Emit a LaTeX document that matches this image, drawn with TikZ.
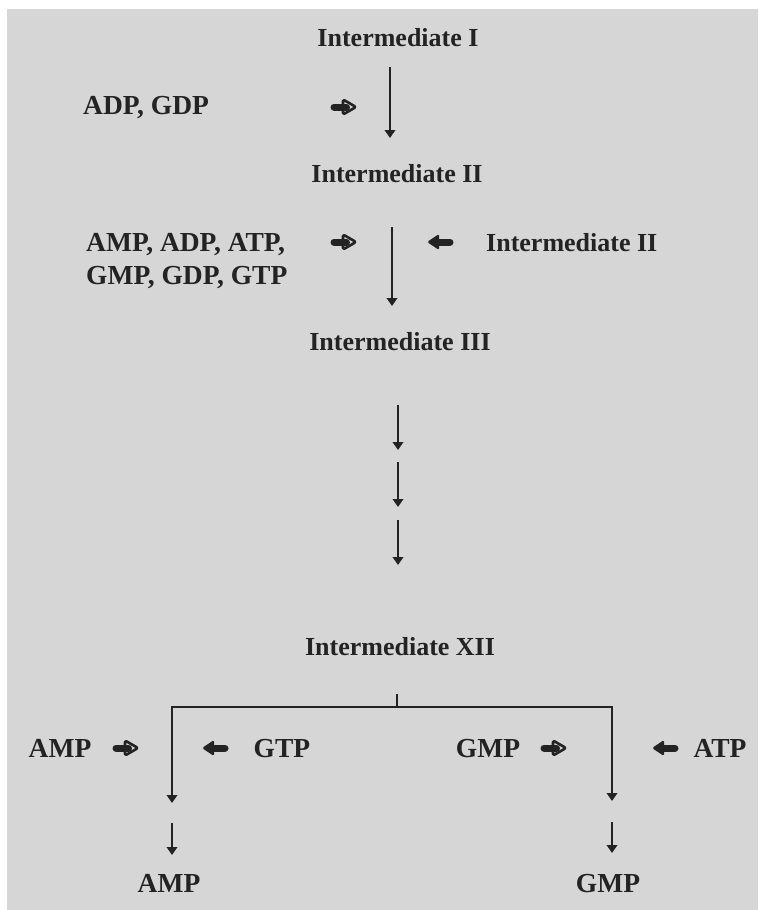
\documentclass[tikz,border=0pt]{standalone}
\usepackage{fontspec}
\setmainfont{Liberation Serif}
\usetikzlibrary{arrows.meta}
\definecolor{ink}{RGB}{35,35,35}
\definecolor{paper}{RGB}{214,214,214}
\begin{document}
\begin{tikzpicture}[x=1pt,y=-1pt,
  txt/.style={inner sep=0pt, font=\fontsize{26}{33}\selectfont\bfseries, text=ink, anchor=base},
  caps/.style={txt, font=\fontsize{27.5}{33}\selectfont\bfseries},
  arr/.style={draw=ink, line width=2.4pt, -{Triangle[width=10.5pt,length=8pt]}},
  bar/.style={draw=ink, line width=2.8pt},
  rsym/.pic={
    \draw[ink, line width=2.6pt, fill=paper, line join=round, rounded corners=1.5pt] (-1,-7.5) -- (12,0) -- (-1,7.5) -- cycle;
    \draw[ink, line width=7pt, line cap=round] (-10,0) -- (2.5,0);
  },
  lsym/.pic={
    \fill[ink, rounded corners=1.5pt] (-13,0) -- (-1,-8) -- (-1,8) -- cycle;
    \draw[ink, line width=7pt, line cap=round] (-4,0) -- (10,0);
  }]
\useasboundingbox (0,0) rectangle (758,910);
\fill[white] (0,0) rectangle (758,910);
\fill[paper] (7,9) rectangle (758,910);

% top
\node[txt] (i1) at (398,46) {Intermediate I};
\node[caps, anchor=base west] (adp) at (83,114) {ADP, GDP};
\pic (r1) at (344,107) {rsym};
\coordinate (a1s) at (390,67); \coordinate (a1e) at (390,138);
\draw[arr] (a1s) -- (a1e);
\node[txt] (i2) at (397,182) {Intermediate II};

% second step
\node[caps, anchor=north west, align=left] (mix) at (86,233) {AMP, ADP, ATP,\\GMP, GDP, GTP};
\pic (r2) at (344,242) {rsym};
\pic (l2) at (440,242) {lsym};
\node[txt, anchor=base west] (i2b) at (486,251) {Intermediate II};
\coordinate (a2s) at (392,227); \coordinate (a2e) at (392,306);
\draw[arr] (a2s) -- (a2e);
\node[txt] (i3) at (400,350) {Intermediate III};

% short steps
\coordinate (s1a) at (398,405); \coordinate (s1b) at (398,450);
\coordinate (s2a) at (398,462); \coordinate (s2b) at (398,507);
\coordinate (s3a) at (398,520); \coordinate (s3b) at (398,565);
\draw[arr] (s1a) -- (s1b);
\draw[arr] (s2a) -- (s2b);
\draw[arr] (s3a) -- (s3b);
\node[txt] (i12) at (400,655) {Intermediate XII};

% branching
\coordinate (st) at (397,694); \coordinate (bm) at (397,707);
\coordinate (lbend) at (172,707); \coordinate (rbend) at (612,707);
\coordinate (ltip) at (172,803); \coordinate (rtip) at (612,801);
\draw[bar] (st) -- (bm);
\draw[bar, line cap=rect] (lbend) -- (rbend);
\draw[arr] (lbend) -- (ltip);
\draw[arr] (rbend) -- (rtip);

\node[caps] (amp1) at (60,757) {AMP};
\pic (r3) at (126,748) {rsym};
\pic (l3) at (215,748) {lsym};
\node[caps] (gtp) at (282,757) {GTP};
\node[caps] (gmp1) at (488,757) {GMP};
\pic (r4) at (554,748) {rsym};
\pic (l4) at (665,748) {lsym};
\node[caps] (atp) at (720,757) {ATP};

\coordinate (la) at (172,823); \coordinate (lb) at (172,855);
\coordinate (ra) at (612,822); \coordinate (rb) at (612,853);
\draw[arr] (la) -- (lb);
\draw[arr] (ra) -- (rb);
\node[caps] (ampf) at (169,892) {AMP};
\node[caps] (gmpf) at (608,892) {GMP};
\end{tikzpicture}
\end{document}
